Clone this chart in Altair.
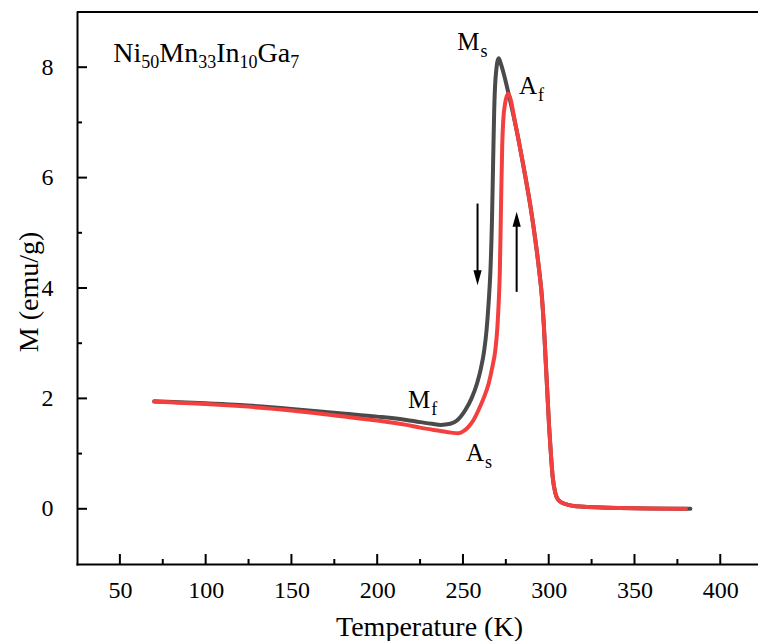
import altair as alt
import pandas as pd

# ---- data ----
cool_T = [70, 100, 120, 150, 178, 200, 217, 225, 232, 237, 242.6, 246.5, 251.4, 255, 258.2, 260.5,
          262.3, 263.8, 265.0, 266.0, 266.9, 267.6, 268.2, 269.0, 270.8, 272.2, 273.7, 276.5,
          281, 286, 289.5, 292.2, 294.5, 296.0, 297.2, 298.2, 299.2, 300.2, 301.1, 302.3, 303.9,
          305.6, 309.5, 318.5, 341.8, 382.6]
cool_M = [1.95, 1.91, 1.88, 1.81, 1.73, 1.67, 1.61, 1.57, 1.54, 1.52, 1.54, 1.60, 1.79, 2.00, 2.27, 2.55,
          2.85, 3.25, 3.75, 4.30, 5.20, 6.30, 7.20, 7.80, 8.16, 8.05, 7.89, 7.53,
          6.90, 6.08, 5.45, 4.87, 4.30, 3.85, 3.30, 2.70, 2.10, 1.50, 1.07, 0.58, 0.28,
          0.16, 0.09, 0.04, 0.013, 0.0]

heat_T = [70, 100, 120, 150, 178, 200, 217, 225, 237, 243, 247.5, 250.5, 253.3, 256, 259.1, 262,
          265, 267, 268.9, 270.1, 270.9, 271.5, 272.2, 272.9, 273.5, 274.5, 276.3,
          281, 286, 289.5, 292.2, 294.5, 296.0, 297.2, 298.2, 299.2, 300.2, 301.1, 302.3, 303.9,
          305.6, 309.5, 318.5, 341.8, 380]
heat_M = [1.94, 1.90, 1.86, 1.78, 1.68, 1.60, 1.52, 1.47, 1.41, 1.38, 1.37, 1.41, 1.49, 1.60, 1.79, 2.00,
          2.27, 2.55, 2.88, 3.30, 3.78, 4.30, 5.50, 6.60, 7.04, 7.33, 7.52,
          6.90, 6.08, 5.45, 4.87, 4.30, 3.85, 3.30, 2.70, 2.10, 1.50, 1.07, 0.58, 0.28,
          0.16, 0.09, 0.04, 0.013, 0.0]

x_major = [50, 100, 150, 200, 250, 300, 350, 400]
x_minor = [75, 125, 175, 225, 275, 325, 375]
y_major = [0, 2, 4, 6, 8]
y_minor = [1, 3, 5, 7]

# arrows: x position, start value, end of shaft, tip value
arrow_T = [258.5, 281.3]
arrow_from = [5.53, 3.93]
arrow_to = [4.30, 5.12]
arrow_tip = [4.05, 5.38]

# annotations: (T, M, main, subscript)
ann_T = [246.7, 282.7, 218.0, 251.8]
ann_M = [8.32, 7.52, 1.82, 0.87]
ann_main = ["M", "A", "M", "A"]
ann_sub = ["s", "f", "f", "s"]

formula_T = 46.2
formula_M = 8.10
formula_main = ["Ni", "Mn", "In", "Ga"]
formula_sub = ["50", "33", "10", "7"]

# ---- layout ----
W, H = 681, 552
FONT = "Liberation Serif"
BLACK_LINE = "#4a4a4a"
RED_LINE = "#f43f3f"

xs = alt.Scale(domain=[25, 422], nice=False, zero=False)
ys = alt.Scale(domain=[-1, 9], nice=False, zero=False)

x_axis = alt.Axis(values=x_major, ticks=False, tickSize=0, grid=False, domainColor="black",
                  domainWidth=2, domainCap="square", labelFont=FONT, labelFontSize=24,
                  labelColor="black", labelPadding=33, labelBaseline="alphabetic",
                  labelFlush=False, title="Temperature (K)", titleFont=FONT, titleFontSize=28,
                  titleFontWeight="normal", titleColor="black", titleX=352, titleY=71,
                  titleBaseline="alphabetic", titleAlign="center")
y_axis = alt.Axis(values=y_major, ticks=False, tickSize=0, grid=False, domainColor="black",
                  domainWidth=2, domainCap="square", labelFont=FONT, labelFontSize=24,
                  labelColor="black", labelPadding=24, labelBaseline="middle", labelAlign="right",
                  labelFlush=False, title="M (emu/g)", titleFont=FONT, titleFontSize=28,
                  titleFontWeight="normal", titleColor="black", titleAngle=270, titleX=-40,
                  titleY=279.5, titleBaseline="alphabetic", titleAlign="center")


def X(field):
    return alt.X(field, scale=xs, axis=x_axis, title="Temperature (K)")


def Y(field):
    return alt.Y(field, scale=ys, axis=y_axis, title="M (emu/g)")


# approximate Times advance widths (em)
CW = {"N": .722, "i": .278, "M": .889, "n": .5, "I": .333, "G": .722, "a": .444,
      "A": .722, "s": .389, "f": .333}
for d in "0123456789":
    CW[d] = .5


def tw(s, size):
    return sum(CW.get(c, .5) for c in s) * size


def piece(T, M, text, size, dx, dy):
    return alt.Chart(pd.DataFrame({"T": [T], "M": [M], "s": [text]})).mark_text(
        align="left", baseline="alphabetic", font=FONT, fontSize=size, color="black",
        dx=dx, dy=dy
    ).encode(x=X("T:Q"), y=Y("M:Q"), text="s:N")


cool_df = pd.DataFrame({"T": cool_T, "M": cool_M, "i": range(len(cool_T))})
heat_df = pd.DataFrame({"T": heat_T, "M": heat_M, "i": range(len(heat_T))})

cool = alt.Chart(cool_df).mark_line(strokeWidth=4, color=BLACK_LINE, interpolate="monotone",
                                    strokeCap="round", strokeJoin="round").encode(
    x=X("T:Q"), y=Y("M:Q"), order="i:Q")
heat = alt.Chart(heat_df).mark_line(strokeWidth=4, color=RED_LINE, interpolate="monotone",
                                    strokeCap="round", strokeJoin="round").encode(
    x=X("T:Q"), y=Y("M:Q"), order="i:Q")

# inward ticks
xmaj = alt.Chart(pd.DataFrame({"t": x_major})).mark_rule(strokeWidth=2, color="black").encode(
    x=X("t:Q"), y=alt.value(H), y2=alt.value(H - 10))
xmin = alt.Chart(pd.DataFrame({"t": x_minor})).mark_rule(strokeWidth=2, color="black").encode(
    x=X("t:Q"), y=alt.value(H), y2=alt.value(H - 5))
ymaj = alt.Chart(pd.DataFrame({"t": y_major})).mark_rule(strokeWidth=2, color="black").encode(
    y=Y("t:Q"), x=alt.value(0), x2=alt.value(10))
ymin = alt.Chart(pd.DataFrame({"t": y_minor})).mark_rule(strokeWidth=2, color="black").encode(
    y=Y("t:Q"), x=alt.value(0), x2=alt.value(5))
top = alt.Chart(pd.DataFrame({"a": [0]})).mark_rule(strokeWidth=2, color="black").encode(
    x=alt.value(0), x2=alt.value(W), y=alt.value(0))

# arrows
arr_df = pd.DataFrame({"T": arrow_T, "M1": arrow_from, "M2": arrow_to, "tip": arrow_tip})
shafts = alt.Chart(arr_df).mark_rule(strokeWidth=2, color="black").encode(
    x=X("T:Q"), y=Y("M1:Q"), y2="M2:Q")
head_down = alt.Chart(arr_df.iloc[[0]]).mark_point(
    shape="M0,0 L-0.55,-2 L0.55,-2 Z", size=225, filled=True, color="black", opacity=1,
    strokeWidth=0).encode(x=X("T:Q"), y=Y("tip:Q"))
head_up = alt.Chart(arr_df.iloc[[1]]).mark_point(
    shape="M0,0 L-0.55,2 L0.55,2 Z", size=225, filled=True, color="black", opacity=1,
    strokeWidth=0).encode(x=X("T:Q"), y=Y("tip:Q"))

texts = []
for T, M, mtxt, stxt in zip(ann_T, ann_M, ann_main, ann_sub):
    texts.append(piece(T, M, mtxt, 25, 0, 0))
    texts.append(piece(T, M, stxt, 18, tw(mtxt, 25) + 1, 7))

off = 0.0
for mtxt, stxt in zip(formula_main, formula_sub):
    texts.append(piece(formula_T, formula_M, mtxt, 28, off, 0))
    off += tw(mtxt, 28)
    texts.append(piece(formula_T, formula_M, stxt, 18, off, 6))
    off += tw(stxt, 18)

chart = alt.layer(cool, heat, xmaj, xmin, ymaj, ymin, top, shafts, head_down, head_up, *texts).properties(
    width=W, height=H,
    autosize=alt.AutoSizeParams(type="none"),
    padding={"left": 77, "top": 12, "right": 0, "bottom": 77},
).configure_view(stroke=None)

chart.save("out.html", embed_options={"renderer": "svg", "actions": False})
